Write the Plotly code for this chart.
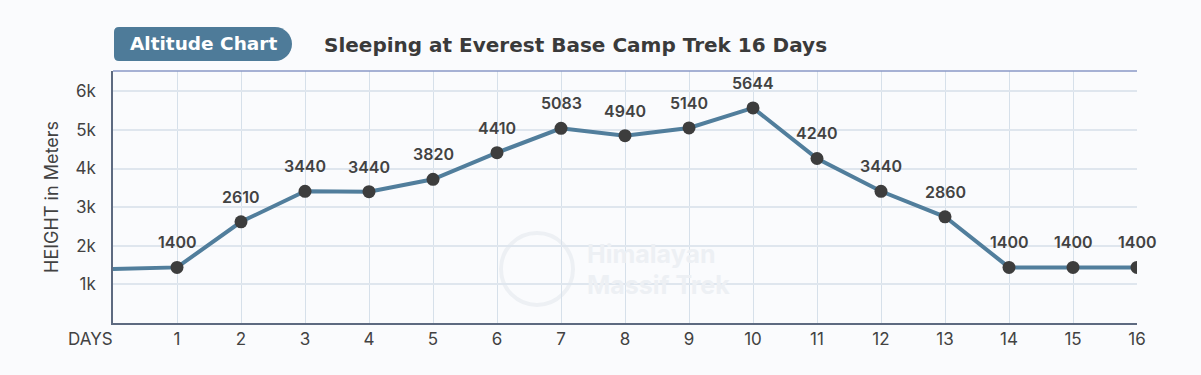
import plotly.graph_objects as go

# ---- data ----
days_line = [0, 1, 2, 3, 4, 5, 6, 7, 8, 9, 10, 11, 12, 13, 14, 15, 16]
heights_line = [1400, 1440, 2620, 3410, 3400, 3720, 4410, 5040, 4850, 5050, 5570, 4260, 3410, 2750, 1440, 1440, 1440]
days = [1, 2, 3, 4, 5, 6, 7, 8, 9, 10, 11, 12, 13, 14, 15, 16]
heights = heights_line[1:]
labels = ["1400", "2610", "3440", "3440", "3820", "4410", "5083", "4940", "5140", "5644",
          "4240", "3440", "2860", "1400", "1400", "1400"]
ytick_vals = [1000, 2000, 3000, 4000, 5000, 6000]
ytick_text = ["1k", "2k", "3k", "4k", "5k", "6k"]

W, H = 1201, 375
ML, MR, MT, MB = 113, 64, 71, 52
PW, PH = W - ML - MR, H - MT - MB

def px(x):
    return (x - ML) / PW

def py(y):
    return (H - MB - y) / PH

BG = "#fafbfd"
LINE = "#517e9c"
DOT = "#3d3d3d"
TXT = "#424242"
FONT = "Inter"
HFONT = "DejaVu Sans"
WM = "#edf0f4"

fig = go.Figure()
fig.add_trace(go.Scatter(x=days_line, y=heights_line, mode="lines",
                         line=dict(color=LINE, width=4), hoverinfo="skip", showlegend=False))
fig.add_trace(go.Scatter(x=days, y=heights, mode="markers",
                         marker=dict(color=DOT, size=13), showlegend=False))

annotations = []
for d, h, t in zip(days, heights, labels):
    annotations.append(dict(x=d, y=h, text=t, showarrow=False, yshift=25,
                            font=dict(family=FONT, size=16, color=TXT, weight=600)))

annotations.append(dict(x=0, y=0, xref="x", yref="y", text="DAYS", showarrow=False,
                        xanchor="right", yanchor="top", xshift=2, yshift=-4,
                        font=dict(family=FONT, size=17, color=TXT)))
# header texts
annotations.append(dict(x=px(203), y=py(44), xref="paper", yref="paper", text="<b>Altitude Chart</b>",
                        showarrow=False, xanchor="center", yanchor="middle",
                        font=dict(family=HFONT, size=18.5, color="white")))
annotations.append(dict(x=px(322), y=py(45), xref="paper", yref="paper",
                        text="<b>Sleeping at Everest Base Camp Trek 16 Days</b>",
                        showarrow=False, xanchor="left", yanchor="middle",
                        font=dict(family=HFONT, size=20, color="#3a3a3a")))
# watermark
annotations.append(dict(x=px(585), y=py(254), xref="paper", yref="paper",
                        text="Himalayan", showarrow=False, xanchor="left", yanchor="middle",
                        font=dict(family=FONT, size=25, color=WM, weight=700)))
annotations.append(dict(x=px(585), y=py(285), xref="paper", yref="paper",
                        text="Massif Trek", showarrow=False, xanchor="left", yanchor="middle",
                        font=dict(family=FONT, size=25, color=WM, weight=700)))

shapes = []
# pill
l, r, t, b = 114, 292, 27, 61
rs, R = 5, 17
k = 0.5523 * R
cy = (t + b) / 2
def P(x, y):
    return f"{px(x):.5f},{py(y):.5f}"
path = (f"M {P(l, b - rs)} L {P(l, t + rs)} Q {P(l, t)} {P(l + rs, t)} "
        f"L {P(r - R, t)} C {P(r - R + k, t)} {P(r, cy - k)} {P(r, cy)} "
        f"C {P(r, cy + k)} {P(r - R + k, b)} {P(r - R, b)} "
        f"L {P(l + rs, b)} Q {P(l, b)} {P(l, b - rs)} Z")
shapes.append(dict(type="path", path=path, xref="paper", yref="paper",
                   fillcolor="#4e7b99", line=dict(width=0), layer="above"))
# top border of plot
shapes.append(dict(type="line", xref="paper", yref="paper", x0=0, x1=1, y0=1, y1=1,
                   line=dict(color="#8a98c6", width=1.5)))
# watermark circle
shapes.append(dict(type="circle", xref="paper", yref="paper",
                   x0=px(501), x1=px(573), y0=py(305), y1=py(233),
                   line=dict(color=WM, width=4), layer="below"))

fig.update_layout(
    width=W, height=H,
    margin=dict(l=ML, r=MR, t=MT, b=MB),
    paper_bgcolor=BG, plot_bgcolor=BG,
    annotations=annotations, shapes=shapes,
    xaxis=dict(range=[0, 16], tickvals=days, showgrid=True, gridcolor="#d6e0ea", gridwidth=1,
               showline=True, linecolor="#5d6a80", linewidth=1.5, zeroline=False,
               ticks="", tickfont=dict(family=FONT, size=17, color=TXT), ticklabelstandoff=0,
               fixedrange=True),
    yaxis=dict(range=[0, 6525], tickvals=ytick_vals, ticktext=ytick_text,
               showgrid=True, gridcolor="#dfe6ee", gridwidth=1.5,
               showline=True, linecolor="#5d6a80", linewidth=1.5, zeroline=False,
               ticks="", tickfont=dict(family=FONT, size=17, color=TXT), ticklabelstandoff=12,
               title=dict(text="HEIGHT in Meters", font=dict(family=FONT, size=18, color=TXT),
                          standoff=12),
               fixedrange=True),
)

fig.write_html("out.html", config={"displayModeBar": False},
               post_script="document.body.style.margin='0';")
